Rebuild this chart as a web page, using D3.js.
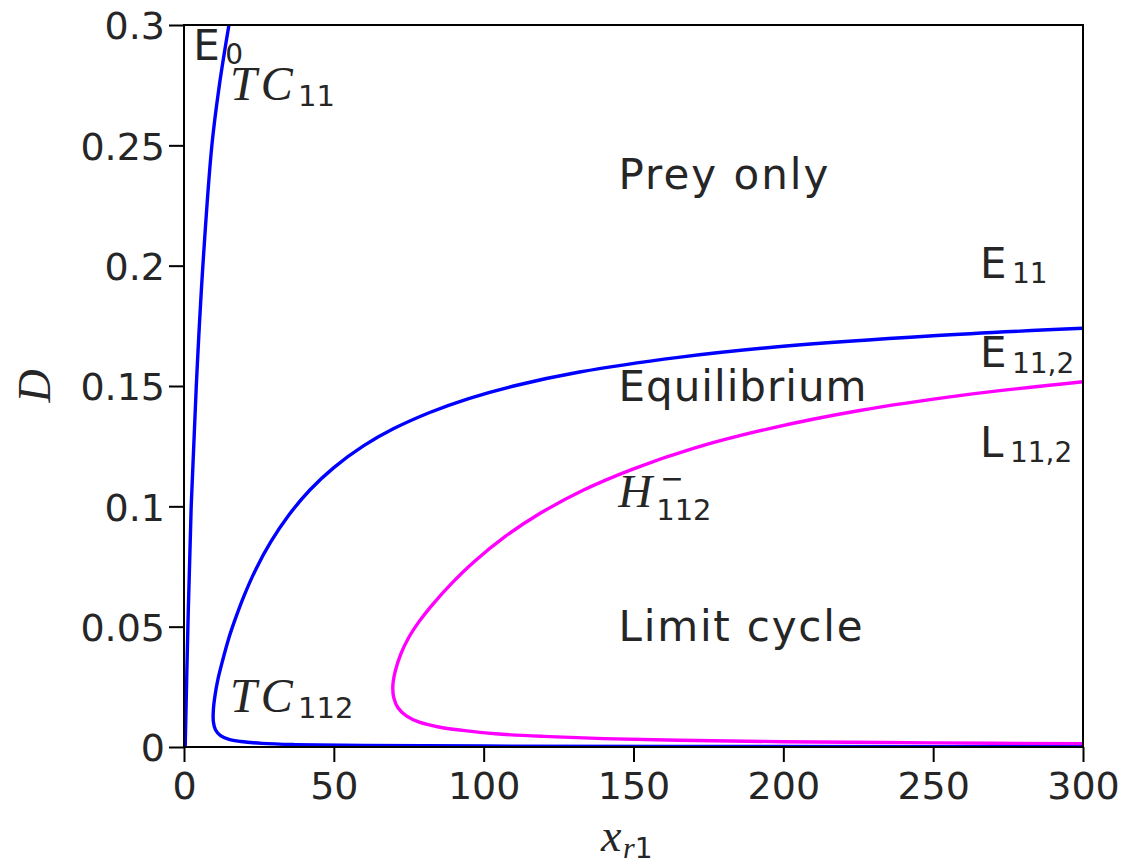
<!DOCTYPE html>
<html>
<head>
<meta charset="utf-8">
<script src="https://cdn.jsdelivr.net/npm/d3@7"></script>
<style>
  body { margin: 0; background: #ffffff; }
  svg { display: block; }
</style>
</head>
<body>
<svg id="chart" width="1130" height="864"></svg>
<script>
// ---- axis ticks ----
const xTicks = [0, 50, 100, 150, 200, 250, 300];
const xTickLabels = ["0", "50", "100", "150", "200", "250", "300"];
const yTicks = [0, 0.05, 0.1, 0.15, 0.2, 0.25, 0.3];
const yTickLabels = ["0", "0.05", "0.1", "0.15", "0.2", "0.25", "0.3"];

// ---- TC11 transcritical curve (x_r1, D) ----
const tc11X = [0.4, 1.3, 2.4, 4.1, 6.3, 9.3, 11.8, 15.0];
const tc11D = [0.0, 0.05, 0.1, 0.15, 0.2, 0.25, 0.275, 0.3];

// ---- TC112 transcritical curve: upper branch -> nose -> lower branch ----
const tc112X = [300, 250, 200, 165, 132, 110, 95, 82, 70, 60, 50, 42, 35, 29, 24, 20, 17, 14.8,
                12.9, 11.3, 10.3, 9.8, 9.8, 10.5, 12.2, 15, 19, 26, 37, 60, 100, 200, 300];
const tc112D = [0.174, 0.1709, 0.1665, 0.1619, 0.1558, 0.15, 0.1448, 0.139, 0.1323, 0.1252, 0.1161, 0.1068, 0.0964, 0.0853, 0.0739, 0.0627, 0.0528, 0.0446,
                0.036, 0.028, 0.021, 0.0154, 0.0105, 0.0072, 0.0047, 0.0032, 0.0023, 0.0015, 0.001, 0.0006, 0.0004, 0.0002, 0.0001];

// ---- H112- Hopf curve: upper branch -> nose -> lower branch ----
const hopfX = [300, 260, 225, 195, 170, 150, 133, 119, 107, 97, 89, 83, 78.5, 75.0, 72.3, 70.5,
               69.7, 70.0, 71.4, 74.2, 78.5, 85, 93, 104, 120, 140, 165, 200, 250, 300];
const hopfD = [0.1518, 0.1462, 0.1397, 0.1322, 0.1241, 0.1156, 0.1066, 0.0972, 0.0873, 0.0772, 0.0676, 0.0593, 0.0522, 0.0455, 0.0385, 0.0315,
               0.0255, 0.0205, 0.0163, 0.0129, 0.0103, 0.0083, 0.0069, 0.0055, 0.0044, 0.0035, 0.0028, 0.0022, 0.0017, 0.0014];

const textColor = "#262626";
const sans = "'DejaVu Sans', sans-serif";
const serif = "'Liberation Serif', 'DejaVu Serif', serif";

const svg = d3.select("#chart");
const plotLeft = 184, plotRight = 1083, plotTop = 25, plotBottom = 747;

const x = d3.scaleLinear().domain([0, 300]).range([plotLeft, plotRight]);
const y = d3.scaleLinear().domain([0, 0.3]).range([plotBottom, plotTop]);

svg.append("defs").append("clipPath").attr("id", "plotClip")
  .append("rect").attr("x", plotLeft).attr("y", plotTop)
  .attr("width", plotRight - plotLeft).attr("height", plotBottom - plotTop);

const plot = svg.append("g").attr("clip-path", "url(#plotClip)");
const line = d3.line().x(d => x(d[0])).y(d => y(d[1])).curve(d3.curveCatmullRom.alpha(0.5));
const zip = (a, b) => a.map((v, i) => [v, b[i]]);

const curves = [
  { pts: zip(tc11X, tc11D), color: "#0000ff" },
  { pts: zip(tc112X, tc112D), color: "#0000ff" },
  { pts: zip(hopfX, hopfD), color: "#ff00ff" }
];
plot.selectAll("path.curve").data(curves).join("path")
  .attr("class", "curve")
  .attr("d", d => line(d.pts))
  .attr("fill", "none")
  .attr("stroke", d => d.color)
  .attr("stroke-width", 3.4)
  .attr("stroke-linejoin", "round");

// ---- axes ----
const xAxis = d3.axisBottom(x).tickValues(xTicks)
  .tickFormat((d, i) => xTickLabels[i]).tickSize(15).tickSizeOuter(0).tickPadding(8);
const yAxis = d3.axisLeft(y).tickValues(yTicks)
  .tickFormat((d, i) => yTickLabels[i]).tickSize(15).tickSizeOuter(0).tickPadding(4);

const gx = svg.append("g").attr("transform", `translate(0,${plotBottom})`).call(xAxis);
const gy = svg.append("g").attr("transform", `translate(${plotLeft},0)`).call(yAxis);
[gx, gy].forEach(g => {
  g.select(".domain").remove();
  g.selectAll(".tick line").attr("stroke", "#000").attr("stroke-width", 2);
  g.selectAll(".tick text").attr("fill", textColor)
    .style("font-family", sans).style("font-size", "38px");
});
gx.selectAll(".tick text").attr("dy", "0.75em");
gy.selectAll(".tick text").attr("dy", "0.36em");

// frame
svg.append("rect").attr("x", plotLeft).attr("y", plotTop)
  .attr("width", plotRight - plotLeft).attr("height", plotBottom - plotTop)
  .attr("fill", "none").attr("stroke", "#000").attr("stroke-width", 2);

// ---- text helper: a label made of styled pieces ----
function label(px, py, parts) {
  const t = svg.append("text").attr("x", px).attr("y", py).attr("fill", textColor);
  parts.forEach(p => {
    const s = t.append("tspan").text(p.t)
      .style("font-family", p.serif ? serif : sans)
      .style("font-size", p.size + "px")
      .style("font-style", p.italic ? "italic" : "normal");
    if (p.x !== undefined) s.attr("x", px + p.x);
    if (p.y !== undefined) s.attr("y", py + p.y);
    if (p.ls) s.style("letter-spacing", p.ls + "px");
  });
  return t;
}

// region names
label(x(145), y(0.2319), [{ t: "Prey only", size: 42, ls: 2 }]);
label(x(145), y(0.1439), [{ t: "Equilibrium", size: 42, ls: 1 }]);
label(x(145), y(0.0440), [{ t: "Limit cycle", size: 42, ls: 1.8 }]);

// attractor names
label(x(3.1), y(0.2855), [{ t: "E", size: 42 }, { t: "0", size: 28, x: 32, y: 4 }]);
label(x(265.6), y(0.1949), [{ t: "E", size: 42 }, { t: "11", size: 28, x: 32, y: 5 }]);
label(x(265.6), y(0.1579), [{ t: "E", size: 42 }, { t: "11,2", size: 28, x: 32, y: 6 }]);
label(x(265.6), y(0.1204), [{ t: "L", size: 42 }, { t: "11,2", size: 28, x: 30, y: 5 }]);

// bifurcation curve names
label(x(15.35), y(0.2688), [{ t: "TC", size: 48, serif: true, italic: true, ls: 4 },
                            { t: "11", size: 29, x: 68, y: 6 }]);
label(x(15.35), y(0.0147), [{ t: "TC", size: 48, serif: true, italic: true, ls: 4 },
                            { t: "112", size: 29, x: 68, y: 6 }]);
label(x(144.9), y(0.0998), [{ t: "H", size: 47, serif: true, italic: true },
                            { t: "\u2212", size: 28, x: 42, y: -19 },
                            { t: "112", size: 29, x: 38, y: 13 }]);

// axis titles
label(601, 851, [{ t: "x", size: 46, serif: true, italic: true },
                 { t: "r", size: 30, serif: true, italic: true, x: 22, y: 7 },
                 { t: "1", size: 28, y: 7 }]);
svg.append("text")
  .attr("transform", "translate(50,386) rotate(-90)")
  .attr("text-anchor", "middle")
  .attr("fill", textColor)
  .style("font-family", serif).style("font-style", "italic").style("font-size", "46px")
  .text("D");
</script>
</body>
</html>
